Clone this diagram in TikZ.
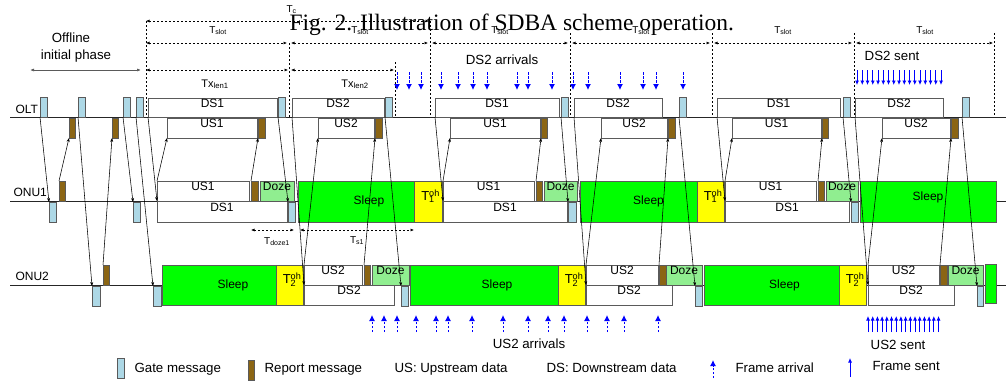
\documentclass[tikz,border=0pt]{standalone}
\usepackage{fontspec}
\setmainfont{Liberation Sans}
\newfontfamily\figfont{Liberation Serif}
\usetikzlibrary{arrows.meta,fit}

\definecolor{gatecol}{RGB}{173,216,230}
\definecolor{repcol}{RGB}{139,101,20}
\definecolor{sleepcol}{RGB}{0,255,0}
\definecolor{dozecol}{RGB}{144,238,144}
\definecolor{ohcol}{RGB}{255,255,0}
\definecolor{edgecol}{RGB}{90,90,90}

\tikzset{
	box/.style={draw=edgecol, line width=0.9pt, inner sep=0pt, outer sep=0pt},
	gatebox/.style={box, fill=gatecol},
	repbox/.style={box, fill=repcol},
	databox/.style={box, fill=white},
	sleepbox/.style={box, fill=sleepcol},
	dozebox/.style={box, fill=dozecol},
	ohbox/.style={box, fill=ohcol, font=\fontsize{13}{13}\selectfont},
	msg/.style={-{Stealth[length=4pt,width=3pt]}, line width=0.55pt},
	span/.style={{Latex[length=3.5pt,width=3pt]}-{Latex[length=3.5pt,width=3pt]}, line width=0.6pt, dash pattern=on 2pt off 2pt},
	vline/.style={line width=0.6pt, dash pattern=on 2pt off 2pt},
	arrival/.style={blue, line width=1pt, dash pattern=on 2.5pt off 1.5pt, -{Latex[length=6pt,width=6pt]}},
	sent/.style={blue, line width=0.8pt, -{Latex[length=4.5pt,width=4pt]}},
	big/.style={font=\fontsize{13.3}{15}\selectfont},
	small/.style={font=\fontsize{10}{11}\selectfont},
	timeline/.style={line width=0.8pt, black!85}
}

% [options]{style}{name}{x1}{y1}{x2}{y2}{text}
\newcommand\blk[8][]{\node[#2, fit={(#4,#5) (#6,#7)}, #1] (#3) {#8};}
\newcommand\Toh[1]{T\rlap{\textsuperscript{oh}}\textsubscript{#1}\hspace{0.6em}}

\begin{document}
\begin{tikzpicture}[x=1pt, y=-1pt, font=\fontsize{12}{14}\selectfont]
		%%%%% START %%%%%
		\useasboundingbox (0,0) rectangle (1006,383);
		
		\node[anchor=base west, small] (tc) at (283,12) {T\textsubscript{c}};
		\node[anchor=base west, font=\figfont\fontsize{23.5}{24}\selectfont] (title) at (286,30) {Fig. 2. Illustration of SDBA scheme operation.};
		
		\node[anchor=base, big] (off1) at (71,42) {Offline};
		\node[anchor=base, big] (off2) at (76,59) {initial phase};
		\draw[{Latex[length=4pt,width=3pt]}-{Latex[length=4pt,width=3pt]}, line width=0.7pt, edgecol] (30,70) -- (141,70);
		
		\draw[span] (146,21) -- (429,21);
		\foreach \x/\y in {146/21, 289/43, 395/62, 430/21, 570/33, 712/33, 854/33, 994/33}
			\draw[vline] (\x,\y) -- (\x,117);
		\foreach \a/\b in {146/287, 291/428, 432/568, 572/710, 714/852, 856/993}
			\draw[span] (\a,43) -- (\b,43);
		\foreach \x in {218, 360, 500, 641, 783, 925}
			\node[anchor=base, small] at (\x,33) {T\textsubscript{slot}};
		\draw[span] (146,70) -- (288,70);
		\draw[span] (291,70) -- (394,70);
		\node[anchor=base, font=\fontsize{11}{12}\selectfont] (tx1) at (215,87) {Tx\textsubscript{len1}};
		\node[anchor=base, font=\fontsize{11}{12}\selectfont] (tx2) at (355,87) {Tx\textsubscript{len2}};
		
		\node[anchor=base, big] (dsarr) at (502,64) {DS2 arrivals};
		\foreach \x in {397, 409, 421, 441, 458, 473, 487, 517, 528, 552, 573, 588, 620, 643, 656, 683}
			\draw[arrival] (\x,72) -- (\x,90);
		\node[anchor=base, big] (dssent) at (892,60) {DS2 sent};
		\foreach \i in {0,...,16}
			\draw[sent] (857+\i*5.25,70) -- (857+\i*5.25,85);
		
		\draw[timeline] (10,117) -- (1006,117);
		\draw[timeline] (10,201) -- (1006,201);
		\draw[timeline] (10,285) -- (1006,285);
		\node[anchor=base west] (olt) at (12,113) {OLT};
		\node[anchor=base west] (onu1) at (10,196) {ONU1};
		\node[anchor=base west] (onu2) at (12,280) {ONU2};
		
		% OLT
		\blk{gatebox}{og1}{40}{97}{47}{117}{}
		\blk{gatebox}{og2}{78}{97}{85}{117}{}
		\blk{gatebox}{og3}{123}{97}{130}{117}{}
		\blk{gatebox}{og4}{136}{97}{143}{117}{}
		\blk{databox}{ods1}{148}{98}{277}{117}{DS1}
		\blk{gatebox}{og5}{278}{97}{285}{117}{}
		\blk{databox}{ods2}{292}{98}{384}{117}{DS2}
		\blk{gatebox}{og6}{385}{97}{392}{117}{}
		\blk{databox}{ods3}{435}{98}{559}{117}{DS1}
		\blk{gatebox}{og7}{561}{97}{568}{117}{}
		\blk{databox}{ods4}{574}{98}{662}{117}{DS2}
		\blk{gatebox}{og8}{679}{97}{686}{117}{}
		\blk{databox}{ods5}{717}{98}{840}{117}{DS1}
		\blk{gatebox}{og9}{843}{97}{850}{117}{}
		\blk{databox}{ods6}{855}{98}{943}{117}{DS2}
		\blk{gatebox}{og10}{962}{97}{969}{117}{}
		
		\blk{repbox}{or1}{69}{118}{75}{138}{}
		\blk{repbox}{or2}{112}{118}{118}{138}{}
		\blk{databox}{ous1}{167}{118}{257}{138}{US1}
		\blk{repbox}{or3}{258}{118}{265}{138}{}
		\blk{databox}{ous2}{318}{118}{374}{138}{US2}
		\blk{repbox}{or4}{375}{118}{382}{138}{}
		\blk{databox}{ous3}{450}{118}{540}{138}{US1}
		\blk{repbox}{or5}{541}{118}{547}{138}{}
		\blk{databox}{ous4}{601}{118}{667}{138}{US2}
		\blk{repbox}{or6}{668}{118}{675}{138}{}
		\blk{databox}{ous5}{732}{118}{821}{138}{US1}
		\blk{repbox}{or7}{822}{118}{828}{138}{}
		\blk{databox}{ous6}{882}{118}{950}{138}{US2}
		\blk{repbox}{or8}{951}{118}{958}{138}{}
		
		% ONU1
		\blk{gatebox}{n1g1}{49}{202}{56}{222}{}
		\blk{gatebox}{n1g2}{133}{202}{140}{222}{}
		\blk{gatebox}{n1g3}{288}{202}{295}{222}{}
		\blk{gatebox}{n1g4}{568}{202}{576}{222}{}
		\blk{gatebox}{n1g5}{851}{202}{858}{222}{}
		\blk{repbox}{n1r1}{59}{181}{65}{201}{}
		\blk{repbox}{n1r2}{251}{181}{258}{201}{}
		\blk{repbox}{n1r3}{536}{181}{542}{201}{}
		\blk{repbox}{n1r4}{818}{181}{824}{201}{}
		\blk{databox}{n1us1}{157}{181}{249}{201}{US1}
		\blk{databox}{n1us2}{443}{181}{534}{201}{US1}
		\blk{databox}{n1us3}{725}{181}{816}{201}{US1}
		\blk{dozebox}{n1dz1}{260}{181}{294}{201}{Doze}
		\blk{dozebox}{n1dz2}{544}{181}{577}{201}{Doze}
		\blk{dozebox}{n1dz3}{826}{181}{858}{201}{Doze}
		\blk{databox}{n1ds1}{157}{201}{287}{222}{DS1}
		\blk{databox}{n1ds2}{443}{201}{567}{222}{DS1}
		\blk{databox}{n1ds3}{725}{201}{849}{222}{DS1}
		\blk[label={[xshift=13pt]center:Sleep}]{sleepbox}{n1sl1}{298}{181}{414}{222}{}
		\blk[label={[xshift=10pt]center:Sleep}]{sleepbox}{n1sl2}{580}{181}{697}{222}{}
		\blk{sleepbox}{n1sl3}{860}{181}{996}{222}{Sleep}
		\blk{ohbox}{n1oh1}{414}{181}{442}{222}{\Toh{1}}
		\blk{ohbox}{n1oh2}{697}{181}{724}{222}{\Toh{1}}
		
		% ONU2
		\blk{gatebox}{n2g1}{92}{286}{100}{306}{}
		\blk{gatebox}{n2g2}{153}{286}{161}{306}{}
		\blk{gatebox}{n2g3}{401}{286}{408}{306}{}
		\blk{gatebox}{n2g4}{695}{286}{702}{306}{}
		\blk{gatebox}{n2g5}{977}{286}{983}{306}{}
		\blk{repbox}{n2r1}{103}{265}{109}{285}{}
		\blk{repbox}{n2r2}{364}{265}{370}{285}{}
		\blk{repbox}{n2r3}{659}{265}{666}{285}{}
		\blk{repbox}{n2r4}{940}{265}{947}{285}{}
		\blk{databox}{n2us1}{304}{265}{362}{285}{US2}
		\blk{databox}{n2us2}{586}{265}{658}{285}{US2}
		\blk{databox}{n2us3}{868}{265}{939}{285}{US2}
		\blk{dozebox}{n2dz1}{372}{265}{409}{285}{Doze}
		\blk{dozebox}{n2dz2}{666}{265}{702}{285}{Doze}
		\blk{dozebox}{n2dz3}{948}{265}{983}{285}{Doze}
		\blk{databox}{n2ds1}{304}{285}{394}{305}{DS2}
		\blk{databox}{n2ds2}{586}{285}{672}{305}{DS2}
		\blk{databox}{n2ds3}{868}{285}{954}{305}{DS2}
		\blk[label={[xshift=14pt]center:Sleep}]{sleepbox}{n2sl1}{162}{265}{276}{305}{}
		\blk[label={[xshift=13pt]center:Sleep}]{sleepbox}{n2sl2}{410}{265}{558}{305}{}
		\blk[label={[xshift=13pt]center:Sleep}]{sleepbox}{n2sl3}{704}{265}{839}{305}{}
		\blk{sleepbox}{n2sl4}{985}{264}{996}{303}{}
		\blk{ohbox}{n2oh1}{276}{265}{303}{305}{\Toh{2}}
		\blk{ohbox}{n2oh2}{558}{265}{585}{305}{\Toh{2}}
		\blk{ohbox}{n2oh3}{839}{265}{866}{305}{\Toh{2}}
		
		% messages
		\draw[msg] (og1.south west) -- (n1g1.north west);
		\draw[msg] (n1r1.north west) -- (or1.south west);
		\draw[msg] (og2.south west) -- (n2g1.north west);
		\draw[msg] (n2r1.north west) -- (or2.south west);
		\draw[msg] (og3.south west) -- (n1g2.north west);
		\draw[msg] (og4.south west) -- (n2g2.north west);
		
		\draw[msg] (ods1.south west) -- (n1ds1.north west);
		\draw[msg] (n1us1.north west) -- (ous1.south west);
		\draw[msg] (n1r2.north west) -- (or3.south west);
		\draw[msg] (og5.south west) -- (n1g3.north west);
		\draw[msg] (ods2.south west) -- (n2ds1.north west);
		\draw[msg] (n2us1.north west) -- (ous2.south west);
		\draw[msg] (n2r2.north west) -- (or4.south west);
		\draw[msg] (og6.south west) -- (n2g3.north west);
		
		\draw[msg] (ods3.south west) -- (n1ds2.north west);
		\draw[msg] (n1us2.north west) -- (ous3.south west);
		\draw[msg] (n1r3.north west) -- (or5.south west);
		\draw[msg] (og7.south west) -- (n1g4.north west);
		\draw[msg] (ods4.south west) -- (n2ds2.north west);
		\draw[msg] (n2us2.north west) -- (ous4.south west);
		\draw[msg] (n2r3.north west) -- (or6.south west);
		\draw[msg] (og8.south west) -- (n2g4.north west);
		
		\draw[msg] (ods5.south west) -- (n1ds3.north west);
		\draw[msg] (n1us3.north west) -- (ous5.south west);
		\draw[msg] (n1r4.north west) -- (or7.south west);
		\draw[msg] (og9.south west) -- (n1g5.north west);
		\draw[msg] (ods6.south west) -- (n2ds3.north west);
		\draw[msg] (n2us3.north west) -- (ous6.south west);
		\draw[msg] (n2r4.north west) -- (or8.south west);
		\draw[msg] (og10.south west) -- (n2g5.north west);
		
		\draw[span] (251,230) -- (294,230);
		\draw[span] (300,230) -- (414,230);
		\node[anchor=base, small] (tdz) at (277,244) {T\textsubscript{doze1}};
		\node[anchor=base, small] (ts1) at (357,243) {T\textsubscript{s1}};
		
		\foreach \x in {372, 384, 397, 416, 436, 448, 472, 503, 528, 548, 564, 587, 607, 624, 658}
			\draw[arrival] (\x,332) -- (\x,315);
		\node[anchor=base, big] (usarr) at (529,348) {US2 arrivals};
		\foreach \i in {0,...,15}
			\draw[sent] (868+\i*4.7,332) -- (868+\i*4.7,316);
		\node[anchor=base, big] (ussent) at (898,349) {US2 sent};
		
		% legend
		\blk{gatebox}{lgate}{117}{358}{124}{378}{}
		\node[anchor=base west, big] (lgatet) at (131,372) {Gate message};
		\blk{repbox}{lrep}{248}{360}{254}{380}{}
		\node[anchor=base west, big] (lrept) at (261,372) {Report message};
		\node[anchor=base west, big] (lus) at (391,372) {US: Upstream data};
		\node[anchor=base west, big] (lds) at (543,372) {DS: Downstream data};
		\draw[arrival] (713,378) -- (713,360);
		\node[anchor=base west, big] (larr) at (732,372) {Frame arrival};
		\draw[sent] (850,377) -- (850,358);
		\node[anchor=base west, big] (lsent) at (869,370) {Frame sent};
		
		%%%%% END %%%%%
\end{tikzpicture}
\end{document}
